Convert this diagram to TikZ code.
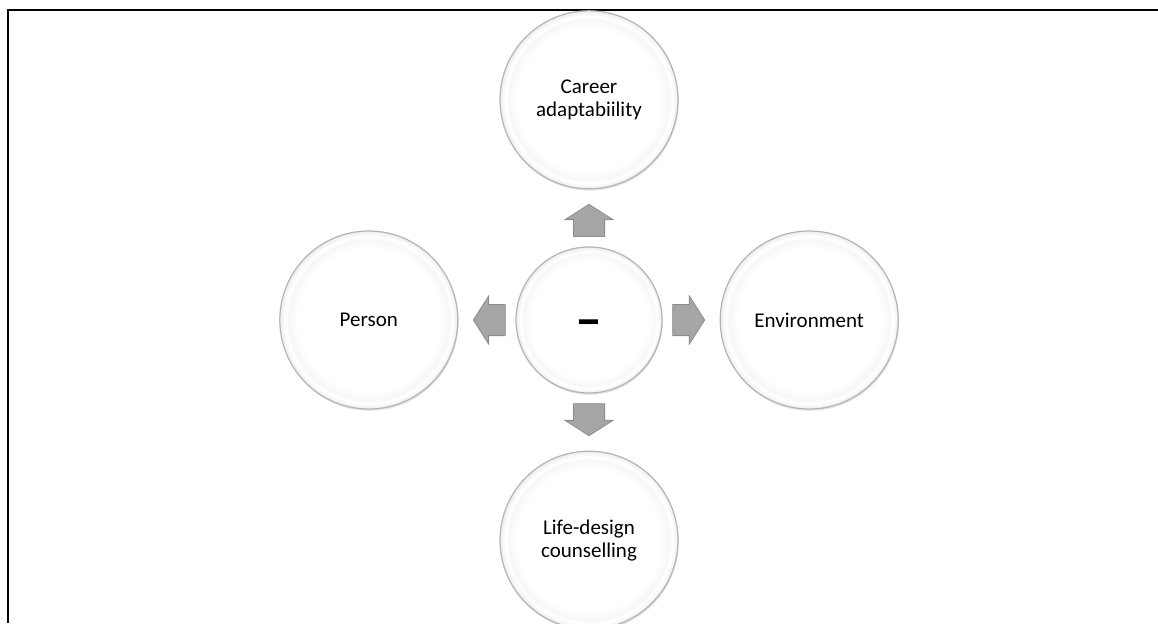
\documentclass[tikz,border=0pt]{standalone}
\usepackage{fontspec}
\setmainfont{Carlito}
\usetikzlibrary{positioning, calc, shapes.arrows, shadows}

\definecolor{arrowgray}{RGB}{166,166,166}
\definecolor{arrowedge}{RGB}{140,140,140}
\definecolor{rimgray}{RGB}{180,180,180}

% white face with a light bevel close to the rim
\pgfdeclareradialshading{bubbleshade}{\pgfpoint{0bp}{0bp}}{%
  color(0bp)=(white); color(20bp)=(white); color(22.5bp)=(gray!6);
  color(23.5bp)=(white); color(25bp)=(gray!14); color(50bp)=(gray!14)}

\tikzset{
  bubble/.style={circle, minimum size=89pt, inner sep=0pt, align=center,
    draw=rimgray, line width=0.6pt, shading=bubbleshade,
    drop shadow={shadow xshift=0.4pt, shadow yshift=-0.9pt, opacity=0.3, fill=gray!70},
    font=\fontsize{10.5}{11.5}\selectfont},
  hubble/.style={bubble, minimum size=73pt},
  blockarrow/.style={single arrow, fill=arrowgray, draw=arrowedge, line width=0.4pt,
    minimum height=16pt, inner xsep=0pt, inner ysep=7.6pt,
    single arrow head extend=4.2pt, single arrow tip angle=115}
}

\begin{document}
\begin{tikzpicture}[x=0.5pt, y=-0.5pt, node distance=28.5pt]
    \useasboundingbox (0,0) rectangle (1158,623);
    % Frame
    \draw[line width=1.3pt] (8,623) -- (8,10) -- (1158,10);

    % Nodes
    \node[hubble] (hub) at (589,320) {\fontsize{27}{27}\selectfont\bfseries\raisebox{-8.5pt}[0pt][0pt]{–}};
    \node[bubble, above=of hub] (career) {Career\\adaptabiility};
    \node[bubble, left=of hub] (person) {Person};
    \node[bubble, right=of hub] (env) {Environment};
    \node[bubble, below=of hub] (life) {Life-design\\counselling};

    % Arrows
    \node[blockarrow, rotate=90] (upar) at ($(hub.north)!0.37!(career.south)$) {};
    \node[blockarrow, rotate=180] (leftar) at ($(hub.west)!0.37!(person.east)$) {};
    \node[blockarrow] (rightar) at ($(hub.east)!0.37!(env.west)$) {};
    \node[blockarrow, rotate=-90] (downar) at ($(hub.south)!0.37!(life.north)$) {};
\end{tikzpicture}
\end{document}
